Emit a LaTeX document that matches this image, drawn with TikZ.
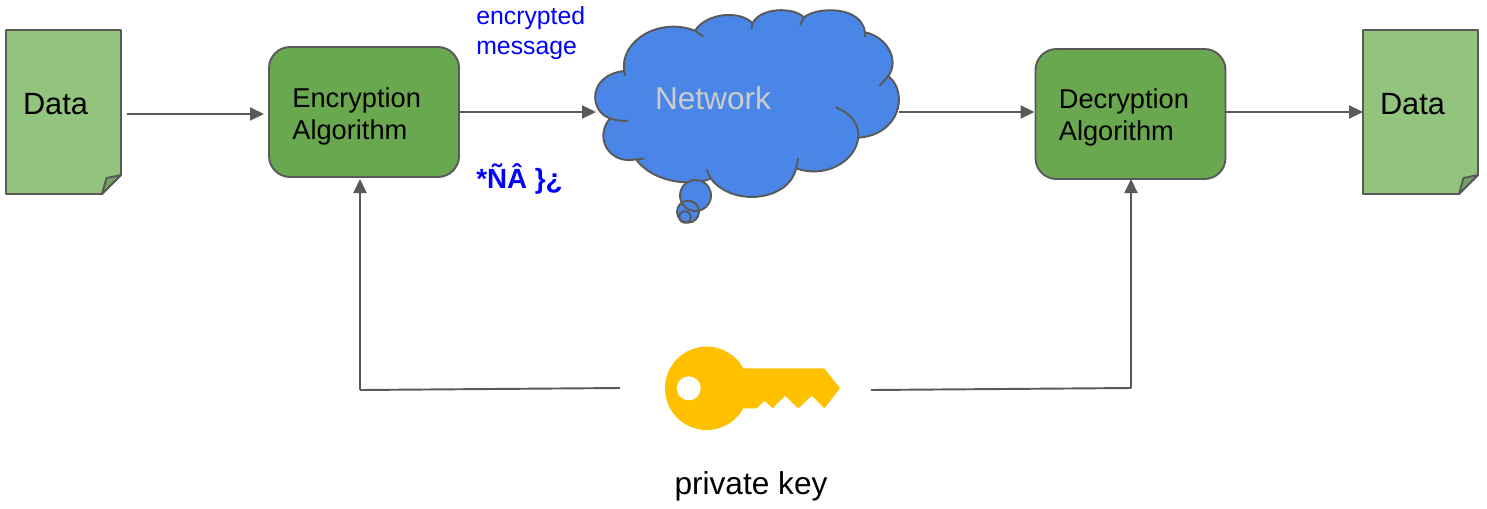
\documentclass[tikz,border=0pt]{standalone}
\usepackage{fontspec}
\setmainfont{Liberation Sans}
\usetikzlibrary{arrows.meta}
\definecolor{linegray}{HTML}{595959}
\definecolor{docgreen}{HTML}{93C47D}
\definecolor{foldgreen}{HTML}{76A164}
\definecolor{boxgreen}{HTML}{6AA84F}
\definecolor{cloudblue}{HTML}{4A86E8}
\definecolor{keyyellow}{HTML}{FFC000}
\definecolor{nettext}{HTML}{CCCCCC}
\tikzset{
  outline/.style={draw=linegray,line width=1.1pt,line join=round},
  arr/.style={draw=linegray,line width=1.1pt,-{Triangle[length=0.28cm,width=0.26cm]}},
  plain/.style={draw=linegray,line width=1.1pt},
  algobox/.style={outline,fill=boxgreen,rounded corners=0.42cm,minimum height=2.6cm,minimum width=3.8cm},
  algotext/.style={inner sep=0,align=left,anchor=west,font=\fontsize{15.5}{18.4}\selectfont},
  doctext/.style={inner sep=0,font=\fontsize{17.5}{20}\selectfont},
  bluetext/.style={inner sep=0,text=blue,align=left,font=\fontsize{14.1}{17}\selectfont}
}
\begin{document}
\begin{tikzpicture}[x=0.02cm,y=-0.02cm]
  \useasboundingbox (0,0) rectangle (1487,508);
  % left document
  \draw[outline,fill=docgreen] (6,30)--(121,30)--(121,175)--(102,194)--(6,194)--cycle;
  \draw[outline,fill=foldgreen] (102,194)--(106.5,178)--(121,175)--cycle;
  \node[doctext] (data1) at (55.5,104) {Data};
  % right document
  \draw[outline,fill=docgreen] (1363,30)--(1478,30)--(1478,175)--(1459,194)--(1363,194)--cycle;
  \draw[outline,fill=foldgreen] (1459,194)--(1463.5,178)--(1478,175)--cycle;
  \node[doctext] (data2) at (1412.5,104) {Data};
  % boxes
  \node[algobox] (enc) at (364,112) {};
  \node[algotext] (enctext) at (292,116.5) {Encryption\\Algorithm};
  \node[algobox] (dec) at (1130.5,114) {};
  \node[algotext] (dectext) at (1058.5,117.5) {Decryption\\Algorithm};
  % cloud
  \begin{scope}[shift={(590,0)},scale=0.3333]
    \draw[outline,fill=cloudblue] (103,213) .. controls (88,125) and (205,50) .. (315,92)
      .. controls (350,38) and (450,30) .. (488,70)
      .. controls (510,22) and (610,20) .. (642,52)
      .. controls (680,20) and (815,16) .. (825,97)
      .. controls (890,110) and (930,180) .. (895,228)
      .. controls (958,280) and (928,405) .. (805,413)
      .. controls (795,490) and (700,535) .. (618,505)
      .. controls (600,600) and (430,625) .. (362,535)
      .. controls (330,555) and (200,560) .. (138,478)
      .. controls (60,495) and (10,415) .. (60,355)
      .. controls (-3,335) and (-8,225) .. (103,213) -- cycle;
    \draw[plain] (315,92)--(340,110);
    \draw[plain] (488,70)--(484,87);
    \draw[plain] (642,52)--(630,75);
    \draw[plain] (825,97)--(825,112);
    \draw[plain] (895,228)--(868,258);
    \draw[plain] (805,413) .. controls (808,375) and (785,340) .. (737,322);
    \draw[plain] (618,505)--(625,475);
    \draw[plain] (362,535)--(350,508);
    \draw[plain] (138,478) .. controls (147,478) and (155,477) .. (163,475);
    \draw[plain] (60,355) .. controls (80,362) and (100,364) .. (115,362);
    \draw[plain] (103,213)--(105,228);
  \end{scope}
  % bubbles, outlines seen through one another
  \fill[cloudblue] (695.5,195.5) circle (15.5) (688,211.7) circle (11);
  \draw[outline] (695.5,195.5) circle (15.5);
  \draw[outline] (688,211.7) circle (11);
  \draw[outline] (685,217) circle (5.7);
  \node[inner sep=0,text=nettext,font=\fontsize{18}{20}\selectfont] (net) at (713,98) {Network};
  \coordinate (netin) at (596,112);
  \coordinate (netout) at (899,112);
  % labels
  \node[bluetext,anchor=west] (msg) at (476,33) {encrypted\\message};
  \node[bluetext,anchor=base west,font=\fontsize{15.8}{17}\selectfont\bfseries] (cipher) at (476,188) {*ÑÂ \}¿};
  % key
  \fill[keyyellow] (706.7,388.3) circle (41.7);
  \fill[keyyellow] (743.3,368.3)--(824.3,368.3)--(840,388.3)--(824.3,408.3)--(811.7,395.7)--(798.3,408.3)--(785,395.7)--(772.7,408.3)--(764.3,400.7)--(756.7,408.3)--(743.3,408.3)--cycle;
  \fill[white] (688.7,388.3) circle (12);
  \node[inner sep=0,font=\fontsize{18}{20}\selectfont] (keytext) at (751,486) {private key};
  % connectors
  \coordinate (docout) at (127,114);
  \coordinate (encin) at (264,114);
  \coordinate (keyl) at (620,388);
  \coordinate (encturn) at (360,390);
  \coordinate (keyr) at (871,390);
  \coordinate (decturn) at (1131,388);
  \coordinate (encup) at (360,179);
  \coordinate (decup) at (1131,179);
  \draw[arr] (docout)--(encin);
  \draw[arr] (enc.east |- netin)--(netin);
  \draw[arr] (netout)--(netout -| dec.west);
  \draw[arr] (dec.east |- netout)--(1363,112);
  \draw[plain] (keyl)--(encturn);
  \draw[arr] (encturn)--(encup);
  \draw[plain] (keyr)--(decturn);
  \draw[arr] (decturn)--(decup);
\end{tikzpicture}
\end{document}
